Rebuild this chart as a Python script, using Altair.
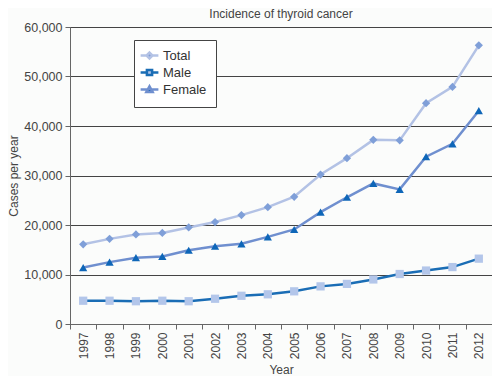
import altair as alt
import pandas as pd

years = [str(y) for y in range(1997, 2013)]
series = ["Total", "Male", "Female"]
total = [16100, 17200, 18100, 18400, 19500, 20600, 22000, 23600, 25700, 30200, 33500, 37200, 37100, 44600, 47900, 56300]
male = [4700, 4700, 4600, 4700, 4600, 5100, 5700, 6000, 6600, 7600, 8100, 9000, 10100, 10800, 11500, 13200]
female = [11400, 12500, 13400, 13650, 14900, 15700, 16200, 17600, 19100, 22600, 25600, 28400, 27200, 33800, 36400, 43100]

line_colors = ["#b3c2e5", "#1a6db5", "#6f8fcf"]
marker_colors = ["#7f9fd8", "#b3c6ea", "#0e66b8"]
shapes = ["diamond", "square", "triangle-up"]
legend_shapes = [
    "M-2.4,0L-0.6,0M0.6,0L2.4,0M0,-0.8L0.8,0L0,0.8L-0.8,0Z",
    "M-2.4,0L-0.6,0M0.6,0L2.4,0M-0.7,-0.7L0.7,-0.7L0.7,0.7L-0.7,0.7Z",
    "M-2.4,0L-0.6,0M0.6,0L2.4,0M0,-0.85L0.85,0.7L-0.85,0.7Z",
]

rows = []
for name, vals in zip(series, [total, male, female]):
    for y, v in zip(years, vals):
        rows.append({"year": y, "series": name, "value": v})
df = pd.DataFrame(rows)

font = "Liberation Sans"

x_enc = alt.X(
    "year:O",
    sort=years,
    bandPosition=0.5,
    scale=alt.Scale(type="band", paddingInner=0, paddingOuter=0),
    axis=alt.Axis(
        title="Year",
        labelAngle=270,
        tickBand="extent",
        grid=False,
        domainColor="#666666",
        tickColor="#666666",
        tickSize=5,
        labelFontSize=12,
        labelColor="#444444",
        labelPadding=3,
        titleFontSize=12,
        titleColor="#444444",
        titleFontWeight="normal",
        titlePadding=6,
    ),
)
y_enc = alt.Y(
    "value:Q",
    scale=alt.Scale(domain=[0, 60000]),
    axis=alt.Axis(
        title="Cases per year",
        values=[0, 10000, 20000, 30000, 40000, 50000, 60000],
        format=",d",
        grid=True,
        gridColor="#444444",
        gridWidth=1,
        domainColor="#666666",
        tickColor="#666666",
        tickSize=5,
        labelFontSize=12.5,
        labelColor="#444444",
        labelPadding=3,
        titleFontSize=12,
        titleColor="#444444",
        titleFontWeight="normal",
        titlePadding=3,
    ),
)

lines = alt.Chart(df).mark_line(strokeWidth=2.5).encode(
    x=x_enc,
    y=y_enc,
    color=alt.Color("series:N", scale=alt.Scale(domain=series, range=line_colors), legend=None),
    detail="series:N",
)

points = alt.Chart(df).mark_point(filled=True, size=68, opacity=1).encode(
    x=x_enc,
    y=y_enc,
    shape=alt.Shape("series:N", scale=alt.Scale(domain=series, range=shapes), legend=None),
    fill=alt.Fill("series:N", scale=alt.Scale(domain=series, range=marker_colors), legend=None),
)

leg = alt.Legend(
    title=None,
    orient="none",
    legendX=64,
    legendY=13,
    fillColor="#ffffff",
    strokeColor="#444444",
    padding=9,
    labelFontSize=13,
    labelColor="#333333",
    labelFont=font,
    symbolSize=55,
    symbolStrokeWidth=2.5,
    rowPadding=0,
    labelOffset=7,
    symbolOpacity=1,
)

legend_layer = (
    alt.Chart(df)
    .transform_filter("false")
    .mark_point(filled=False, size=55, strokeWidth=2.5)
    .encode(
        x=x_enc,
        y=y_enc,
        shape=alt.Shape("series:N", scale=alt.Scale(domain=series, range=legend_shapes), legend=leg),
        fill=alt.Fill("series:N", scale=alt.Scale(domain=series, range=marker_colors), legend=leg),
        stroke=alt.Stroke("series:N", scale=alt.Scale(domain=series, range=line_colors), legend=leg),
    )
)

chart = (
    alt.layer(lines, points, legend_layer)
    .resolve_scale(shape="independent", fill="independent", stroke="independent")
    .properties(
        width=422,
        height=297,
        title=alt.Title(
            "Incidence of thyroid cancer",
            fontSize=12,
            font=font,
            fontWeight="normal",
            color="#444444",
            anchor="middle",
            offset=0,
        ),
        autosize=alt.AutoSizeParams(type="none"),
        padding={"left": 62, "top": 19, "right": 0, "bottom": 52},
        background="#fbfcfb",
    )
    .configure_view(stroke="#333333", strokeWidth=1)
    .configure_axis(labelFont=font, titleFont=font)
)

chart.save("out.html", embed_options={"renderer": "svg", "actions": False})
